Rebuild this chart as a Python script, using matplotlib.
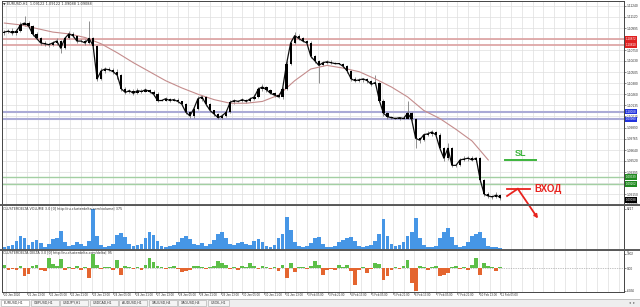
import matplotlib.pyplot as plt
from matplotlib.lines import Line2D
from matplotlib.patches import Rectangle
from matplotlib.transforms import blended_transform_factory

W, H = 640, 307

# EURUSD H1, grouped in 3-hour bins
first_open = 1.1094
closes = [
    1.1095, 1.1096, 1.1094, 1.1096, 1.1103, 1.1105, 1.1102, 1.1093, 1.1088, 1.1083,
    1.1082, 1.1081, 1.1083, 1.1085, 1.1077, 1.1088, 1.1093, 1.1091, 1.1085, 1.1085,
    1.1083, 1.1088, 1.1080, 1.1043, 1.1052, 1.1054, 1.1053, 1.1051, 1.1047, 1.1032,
    1.1028, 1.1030, 1.1027, 1.1030, 1.1029, 1.1031, 1.1029, 1.1026, 1.1019, 1.1019,
    1.1021, 1.1019, 1.1020, 1.1018, 1.1015, 1.1006, 1.1002, 1.1010, 1.1021, 1.1023,
    1.1015, 1.1008, 1.1004, 1.1000, 1.1002, 1.1006, 1.1017, 1.1019, 1.1018, 1.1020,
    1.1018, 1.1021, 1.1023, 1.1032, 1.1034, 1.1031, 1.1027, 1.1025, 1.1023, 1.1032,
    1.1060, 1.1083, 1.1091, 1.1088, 1.1085, 1.1083, 1.1068, 1.1063, 1.1058, 1.1061,
    1.1062, 1.1061, 1.1060, 1.1060, 1.1057, 1.1052, 1.1043, 1.1041, 1.1042, 1.1043,
    1.1041, 1.1037, 1.1039, 1.1019, 1.1005, 1.1001, 1.1000, 1.0999, 1.1000, 1.0999,
    1.1005, 1.0998, 1.0977, 1.0975, 1.0981, 1.0982, 1.0984, 1.0981, 1.0966, 1.0955,
    1.0966, 1.0947, 1.0947, 1.0953, 1.0954, 1.0955, 1.0953, 1.0955, 1.0931, 1.0915,
    1.0913, 1.0912, 1.0914, 1.0911,
]
upper_wick_pips = [
    2, 2, 3, 2, 3, 8, 2, 1, 2, 1,
    2, 1, 2, 3, 1, 2, 3, 2, 1, 2,
    2, 19, 2, 1, 3, 2, 2, 2, 3, 1,
    2, 2, 2, 3, 2, 2, 1, 2, 2, 1,
    2, 1, 2, 2, 1, 1, 1, 2, 3, 2,
    1, 1, 1, 1, 2, 2, 3, 2, 1, 2,
    1, 2, 3, 2, 3, 1, 1, 1, 2, 2,
    3, 3, 4, 2, 2, 1, 2, 1, 1, 2,
    2, 2, 1, 1, 1, 1, 1, 2, 2, 1,
    1, 1, 8, 1, 2, 1, 1, 1, 1, 2,
    14, 1, 2, 2, 2, 3, 2, 1, 2, 1,
    6, 1, 2, 2, 3, 2, 2, 1, 1, 1,
    2, 1, 3, 1,
]
lower_wick_pips = [
    2, 1, 2, 2, 1, 1, 2, 2, 1, 2,
    2, 3, 1, 2, 5, 1, 1, 2, 2, 1,
    2, 1, 2, 2, 1, 2, 1, 2, 4, 2,
    2, 1, 2, 1, 2, 1, 2, 2, 2, 1,
    1, 2, 1, 2, 2, 2, 2, 2, 1, 2,
    2, 2, 2, 2, 1, 1, 1, 2, 1, 1,
    2, 1, 1, 1, 2, 2, 1, 2, 1, 2,
    1, 2, 1, 2, 1, 2, 2, 2, 20, 1,
    1, 2, 1, 1, 2, 2, 2, 1, 1, 2,
    2, 2, 1, 2, 3, 2, 1, 1, 2, 1,
    1, 2, 11, 3, 1, 1, 2, 2, 2, 3,
    2, 2, 2, 1, 1, 2, 1, 2, 3, 2,
    2, 2, 1, 2,
]
volume = [
    600, 800, 1000, 1800, 2800, 2400, 1000, 1600, 2000, 1400,
    600, 1200, 2200, 2400, 3800, 1600, 800, 1000, 1600, 1200,
    800, 1800, 8217, 2800, 1000, 600, 800, 1200, 3000, 3400,
    2600, 1200, 800, 1000, 1200, 2400, 3600, 3000, 1800, 800,
    600, 800, 1000, 1600, 2400, 2800, 2200, 1200, 1000, 1400,
    800, 1200, 2000, 3200, 3600, 2400, 1200, 1000, 1400, 1600,
    1200, 1000, 1800, 2200, 1600, 800, 600, 1000, 2400, 3200,
    6600, 4000, 1600, 800, 600, 800, 1400, 2400, 2600, 1200,
    600, 600, 800, 1600, 2000, 2400, 2600, 1800, 800, 600,
    800, 1000, 1800, 3200, 6200, 2800, 1200, 800, 1000, 1600,
    2800, 3600, 6400, 2400, 1000, 600, 600, 800, 2400, 3600,
    4400, 2600, 1000, 600, 800, 1600, 2800, 3200, 3600, 2400,
    800, 600, 600, 400,
]
delta = [
    795, -530, -265, -530, 530, -2120, -1590, 530, 795, -530,
    -795, 2650, 1060, 530, 2385, -530, 265, -265, 530, -530,
    265, -2650, 3802, 795, -265, 265, 265, -530, 2120, -1855,
    530, 265, -265, 265, -530, 795, 2650, 1590, 530, 265,
    -265, 265, 530, -265, -1060, -795, -530, 530, 530, 265,
    -265, 265, 530, 1855, 1325, 795, -265, 265, -530, 530,
    265, 1325, 530, -265, 530, 265, -265, 265, -795, 795,
    -2650, 1325, -1060, 265, 265, -265, 530, 1855, 795, -1855,
    -530, -265, -530, 795, 265, 795, -795, -4505, -530, 265,
    -1325, -265, 1325, 1060, -3180, -2120, -530, 265, -265, 530,
    2120, -3975, -6036, 530, 265, -530, 265, 530, -2120, -1855,
    -1325, 265, 530, -265, 265, -530, 795, 2650, -1855, 1325,
    530, 265, -795, 265,
]
# moving average, one value every MA_STEP bins
ma_values = [
    1.1105, 1.1103, 1.1099, 1.1095, 1.1093, 1.1089, 1.1082, 1.1072, 1.1061, 1.1051,
    1.1041, 1.1033, 1.1026, 1.1020, 1.1016, 1.1016, 1.1018, 1.1025, 1.1041, 1.1054,
    1.1058, 1.1055, 1.1051, 1.1043, 1.1034, 1.1023, 1.1008, 1.0999, 1.0987, 1.0974,
    1.0953,
]

levels_red = [1.10872, 1.10810]
levels_blue = [1.10068, 1.09980]
levels_green = [1.09339, 1.09262]
last_price = 1.09088
entry_price = 1.0921
sl_price = 1.0953

price_ticks = ['1.11240', '1.11120', '1.10995', '1.10870', '1.10750', '1.10630',
               '1.10505', '1.10380', '1.10260', '1.10135', '1.10015', '1.09890',
               '1.09765', '1.09640', '1.09520', '1.09395', '1.09275', '1.09150',
               '1.09030']
date_labels = ['20 Jan 2020', '21 Jan 13:00', '22 Jan 05:00', '22 Jan 21:00',
               '23 Jan 13:00', '24 Jan 05:00', '24 Jan 21:00', '27 Jan 13:00',
               '28 Jan 05:00', '28 Jan 21:00', '29 Jan 13:00', '30 Jan 05:00',
               '30 Jan 21:00', '31 Jan 13:00', '3 Feb 05:00', '3 Feb 21:00',
               '4 Feb 13:00', '5 Feb 05:00', '5 Feb 21:00', '6 Feb 13:00',
               '7 Feb 05:00', '7 Feb 21:00', '10 Feb 13:00', '11 Feb 05:00']
tab_names = ['EURUSD,H1', 'GBPUSD,H1', 'USDJPY,H1', 'USDCAD,H1', 'AUDUSD,H1',
             'XAUUSD,H4', 'XAGUSD,H4', 'USOIL,H1']
header = '\u25bc EURUSD,H1  1.09122 1.09122 1.09088 1.09088'
vol_title = 'CLUSTERDELTA VOLUME 3.0 [0] http://ru.clusterdelta.com/volume| 375'
delta_title = 'CLUSTERDELTA DELTA 3.0 [0] http://ru.clusterdelta.com/delta| 95'

BIN_HOURS = 3
MA_STEP = 4
FIRST_LABEL_HOUR = 18
LABEL_EVERY = 16
PIP = 0.0001

GRID = '#dedede'
TXT = '#333333'
BLUE = '#4696e6'
GREEN = '#5cbf48'
ORANGE = '#e4652f'
RED = '#e8231e'
SLGREEN = '#3cb43c'
SMALL = 'Liberation Sans'


def box(x0, y0, x1, y1):
    return [x0 / W, 1 - y1 / H, (x1 - x0) / W, (y1 - y0) / H]


fig = plt.figure(figsize=(W / 100, H / 100), dpi=100)
fig.patch.set_facecolor('white')

ax_p = fig.add_axes(box(2, 1, 624, 205))
ax_v = fig.add_axes(box(2, 205, 624, 250), sharex=ax_p)
ax_d = fig.add_axes(box(2, 250, 624, 292), sharex=ax_p)
ax_p.set_zorder(3)
ax_o = fig.add_axes([0, 0, 1, 1], zorder=10)
ax_o.set_xlim(0, W)
ax_o.set_ylim(H, 0)
ax_o.axis('off')

n = len(closes)
xs = [BIN_HOURS * i + 1 for i in range(n)]
opens = [first_open] + closes[:-1]
highs = [max(o, c) + u * PIP for o, c, u in zip(opens, closes, upper_wick_pips)]
lows = [min(o, c) - d * PIP for o, c, d in zip(opens, closes, lower_wick_pips)]
bottoms = [min(o, c) for o, c in zip(opens, closes)]
heights = [max(abs(c - o), 0.00004) for o, c in zip(opens, closes)]

grid_hours = list(range(2, 470, 8))
label_hours = [0] + [FIRST_LABEL_HOUR + LABEL_EVERY * k for k in range(len(date_labels) - 1)]

for ax in (ax_p, ax_v, ax_d):
    ax.set_xlim(-0.75, 462)
    for g in grid_hours:
        ax.axvline(g, color=GRID, lw=0.5, zorder=0)
    for s in ax.spines.values():
        s.set_color('#444444')
        s.set_linewidth(0.7)
    ax.tick_params(axis='x', bottom=False, labelbottom=False)
    ax.yaxis.tick_right()
    ax.tick_params(axis='y', length=1.2, width=0.4, labelsize=2.3, pad=0.8,
                   colors=TXT)
    for lab in ax.get_yticklabels():
        lab.set_family(SMALL)

# price panel
tick_vals = [float(t) for t in price_ticks]
all_levels = levels_red + levels_blue + levels_green + [last_price]
shown = [t if min(abs(float(t) - lv) for lv in all_levels) > 0.0003 else ''
         for t in price_ticks]
ax_p.set_ylim(1.09030, 1.11295)
ax_p.set_yticks(tick_vals)
ax_p.set_yticklabels(shown, family=SMALL)
for t in tick_vals:
    ax_p.axhline(t, color=GRID, lw=0.5, zorder=0)

for lv in levels_red:
    ax_p.axhline(lv, color='#dba0a0', lw=1.2, zorder=1)
for lv in levels_blue:
    ax_p.axhline(lv, color='#aaaad6', lw=1.5, zorder=1)
for lv in levels_green:
    ax_p.axhline(lv, color='#a3cfa3', lw=1.0, zorder=1)

ax_p.vlines(xs, lows, highs, color='#7d7d7d', lw=0.6, zorder=2)
ax_p.plot(xs, closes, color='#111111', lw=0.9, zorder=3)
ax_p.bar(xs, heights, bottom=bottoms, width=1.7, color='black', lw=0, zorder=3)
ma_x = [xs[i * MA_STEP] for i in range(len(ma_values))]
ax_p.plot(ma_x, ma_values, color='#c48c8c', lw=0.8, zorder=2)

yt = blended_transform_factory(ax_p.transAxes, ax_p.transData)
for vals, col in ((levels_red, '#e02020'), (levels_blue, '#2233dd'),
                  (levels_green, '#1f8a1f'), ([last_price], 'black')):
    for lv in vals:
        ax_p.text(1.0025, lv, f'{lv:.5f}', transform=yt, fontsize=2.2,
                  family=SMALL, color='white', va='center', ha='left',
                  clip_on=False, bbox=dict(fc=col, ec='none', pad=0.6), zorder=5)

ax_p.text(0.002, 0.995, header, transform=ax_p.transAxes, fontsize=2.5,
          va='top', ha='left', color=TXT)

# trade annotations
ax_p.plot([373.5, 396.6], [sl_price, sl_price], color=SLGREEN, lw=1.4, zorder=6)
ax_p.annotate('SL', (385, sl_price), xytext=(0, 1.2), textcoords='offset points',
              ha='center', va='bottom', fontsize=6.5, fontweight='bold',
              color=SLGREEN, family='Liberation Sans', zorder=6)
ax_p.plot([375, 392], [entry_price, entry_price], color=RED, lw=1.3, zorder=6)
ax_p.plot([375, 383], [entry_price - 0.0008, entry_price], color=RED, lw=1.3,
          zorder=6)
ax_p.annotate('', xy=(398, 1.0888), xytext=(383, entry_price),
              arrowprops=dict(arrowstyle='-|>', color=RED, lw=1.3,
                              mutation_scale=5, shrinkA=0, shrinkB=0),
              annotation_clip=False, zorder=6)
ax_p.annotate('\u0412\u0425\u041e\u0414', (395, entry_price), xytext=(0, 0),
              textcoords='offset points', ha='left', va='center', fontsize=7,
              fontweight='bold', color=RED, family='Liberation Sans', zorder=6)

# volume panel
ax_v.set_ylim(0, 9000)
ax_v.bar(xs, volume, width=2.8, color=BLUE, lw=0, zorder=2)
ax_v.set_yticks([max(volume), 0])
ax_v.set_yticklabels([str(max(volume)), '0'], family=SMALL)
ax_v.text(0.002, 0.96, vol_title, transform=ax_v.transAxes, fontsize=2.4,
          va='top', ha='left', color=TXT)

# delta panel
ax_d.set_ylim(-6360, 4770)
ax_d.bar(xs, delta, width=2.8, lw=0, zorder=2,
         color=[GREEN if v >= 0 else ORANGE for v in delta])
ax_d.axhline(0, color='#888888', lw=0.5, ls=(0, (1, 1.5)), zorder=1)
ax_d.set_yticks([max(delta), 0, min(delta)])
ax_d.set_yticklabels([str(max(delta)), '0.00', str(min(delta))], family=SMALL)
ax_d.text(0.002, 0.97, delta_title, transform=ax_d.transAxes, fontsize=2.4,
          va='top', ha='left', color=TXT)

xt = blended_transform_factory(ax_d.transData, ax_d.transAxes)
for h, lab in zip(label_hours, date_labels):
    ax_d.plot([h, h], [0, -0.04], transform=xt, color='#444444', lw=0.4,
              clip_on=False)
    ax_d.text(h + 0.6, -0.03, lab, transform=xt, fontsize=2.1, family=SMALL,
              va='top', ha='left', color=TXT, clip_on=False)

# separators and tab strip
for yy in (205, 250):
    ax_o.add_line(Line2D([0, W], [yy, yy], color='#5a5a5a', lw=1.4))
ax_o.add_patch(Rectangle((0, 299), W, 8, fc='#eeeeee', ec='none'))
ax_o.add_line(Line2D([0, W], [299, 299], color='#b0b0b0', lw=0.5))
tx = 1
for i, name in enumerate(tab_names):
    tw = 21 if name.startswith('USOIL') else 28
    ax_o.add_patch(Rectangle((tx, 299.5), tw, 6.5,
                             fc='white' if i == 0 else '#f4f4f4',
                             ec='#a8a8a8', lw=0.4))
    ax_o.text(tx + 3, 302.8, name, fontsize=2.4, family=SMALL, va='center',
              ha='left', color=TXT)
    tx += tw + 1.5
ax_o.text(632, 302.8, '\u25c2  \u25b8', fontsize=2.6, va='center', ha='center',
          color='#666666')

fig.savefig('out.png', dpi=100)
